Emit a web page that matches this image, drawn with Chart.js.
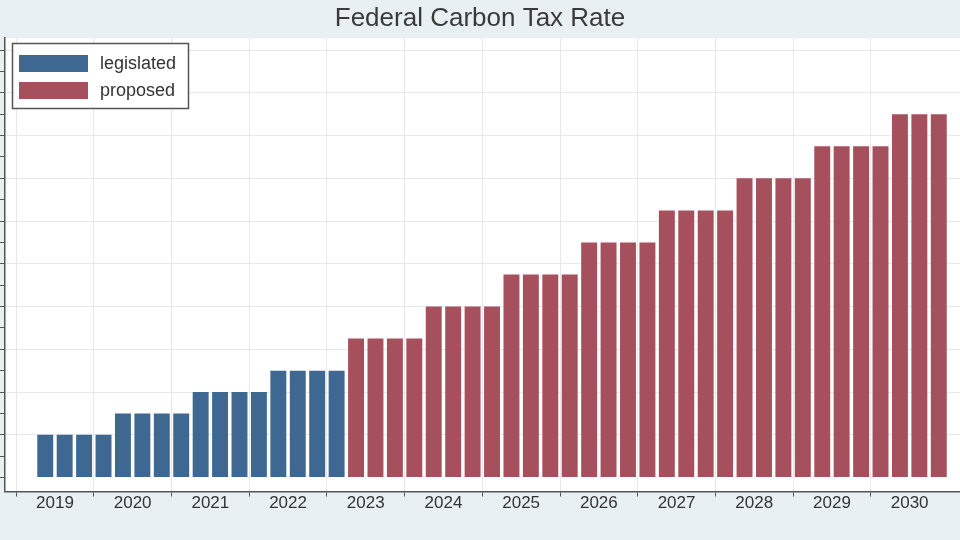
<!DOCTYPE html>
<html>
<head>
<meta charset="utf-8">
<script src="https://cdn.jsdelivr.net/npm/chart.js@4"></script>
<style>
  html, body { margin: 0; padding: 0; background: #e9f0f4; }
  #wrap { width: 960px; height: 540px; }
</style>
</head>
<body>
<div id="wrap"><canvas id="myChart"></canvas></div>
<script>
// quarterly series, Q2 2019 .. Q4 2030
const quarters = [
  '2019Q2','2019Q3','2019Q4','2020Q1','2020Q2','2020Q3','2020Q4','2021Q1',
  '2021Q2','2021Q3','2021Q4','2022Q1','2022Q2','2022Q3','2022Q4','2023Q1',
  '2023Q2','2023Q3','2023Q4','2024Q1','2024Q2','2024Q3','2024Q4','2025Q1',
  '2025Q2','2025Q3','2025Q4','2026Q1','2026Q2','2026Q3','2026Q4','2027Q1',
  '2027Q2','2027Q3','2027Q4','2028Q1','2028Q2','2028Q3','2028Q4','2029Q1',
  '2029Q2','2029Q3','2029Q4','2030Q1','2030Q2','2030Q3','2030Q4'
];
const legislated = [
  20,20,20,20, 30,30,30,30, 40,40,40,40, 50,50,50,50,
  null,null,null,null, null,null,null,null, null,null,null,null, null,null,null,null,
  null,null,null,null, null,null,null,null, null,null,null,null, null,null,null
];
const proposed = [
  null,null,null,null, null,null,null,null, null,null,null,null, null,null,null,null,
  65,65,65,65, 80,80,80,80, 95,95,95,95, 110,110,110,110,
  125,125,125,125, 140,140,140,140, 155,155,155,155, 170,170,170
];
const years = [2019,2020,2021,2022,2023,2024,2025,2026,2027,2028,2029,2030];
const yTicks = [0,10,20,30,40,50,60,70,80,90,100,110,120,130,140,150,160,170,180,190,200];

const blue = '#3e6891';
const red = '#a7505d';

// quarter label -> position on the year axis (centre of the quarter)
function qx(q) {
  return Number(q.slice(0, 4)) + (Number(q.slice(5)) - 0.5) / 4;
}

const data = {
  datasets: [{
    label: 'legislated',
    data: quarters.map((q, i) => ({ x: qx(q), y: legislated[i] })),
    backgroundColor: blue,
    grouped: false
  }, {
    label: 'proposed',
    data: quarters.map((q, i) => ({ x: qx(q), y: proposed[i] })),
    backgroundColor: red,
    grouped: false
  }]
};

const plotBg = {
  id: 'plotBg',
  beforeDraw(chart) {
    const { ctx, chartArea: a } = chart;
    ctx.save();
    ctx.fillStyle = '#ffffff';
    ctx.fillRect(a.left, a.top, a.right - a.left, a.bottom - a.top);
    ctx.restore();
  }
};

// boxed legend inside the plot, top-left
const boxLegend = {
  id: 'boxLegend',
  afterDraw(chart) {
    const ctx = chart.ctx;
    ctx.save();
    ctx.fillStyle = '#ffffff';
    ctx.strokeStyle = '#555555';
    ctx.lineWidth = 1.5;
    ctx.fillRect(12.5, 43.5, 176, 65);
    ctx.strokeRect(12.5, 43.5, 176, 65);
    ctx.font = '18px "Liberation Sans", Arial, sans-serif';
    ctx.textBaseline = 'middle';
    chart.data.datasets.forEach((ds, i) => {
      const y = 55 + i * 27;
      ctx.fillStyle = ds.backgroundColor;
      ctx.fillRect(19, y, 69, 17);
      ctx.fillStyle = '#333333';
      ctx.fillText(ds.label, 100, y + 9);
    });
    ctx.restore();
  }
};

const config = {
  type: 'bar',
  data,
  options: {
    responsive: true,
    maintainAspectRatio: false,
    animation: false,
    categoryPercentage: 0.82,
    barPercentage: 1,
    layout: { padding: { left: 0, right: 0, top: 0, bottom: 29 } },
    plugins: {
      legend: { display: false },
      tooltip: { enabled: false },
      title: {
        display: true,
        text: 'Federal Carbon Tax Rate',
        color: '#3a3a3a',
        font: { family: '"Liberation Sans", Arial, sans-serif', size: 26, weight: 'normal' },
        padding: { top: 3, bottom: 4 }
      }
    },
    scales: {
      x: {
        type: 'linear',
        offset: false,
        min: 2018.857,
        max: 2031.148,
        afterBuildTicks: ax => {
          const t = [];
          years.forEach(y => { t.push({ value: y }); t.push({ value: y + 0.5 }); });
          ax.ticks = t;
        },
        border: { color: '#555555', width: 1.5 },
        grid: {
          offset: false,
          color: c => (c.tick && c.tick.value % 1 === 0) ? '#e8e8e8' : 'rgba(0,0,0,0)',
          tickColor: c => (c.tick && c.tick.value % 1 === 0) ? '#555555' : 'rgba(0,0,0,0)',
          tickLength: 5
        },
        ticks: {
          autoSkip: false,
          maxRotation: 0,
          padding: -3,
          color: '#333333',
          font: { family: '"Liberation Sans", Arial, sans-serif', size: 17 },
          callback: v => (v % 1 === 0.5) ? String(Math.floor(v)) : ''
        }
      },
      y: {
        min: -6.6,
        max: 205.6,
        afterBuildTicks: ax => { ax.ticks = yTicks.map(v => ({ value: v })); },
        border: { color: '#555555', width: 1.5 },
        grid: {
          color: c => (c.tick && c.tick.value % 20 === 0 && c.tick.value > 0) ? '#e8e8e8' : 'rgba(0,0,0,0)',
          tickColor: '#555555',
          tickLength: 5
        },
        ticks: { display: false }
      }
    }
  },
  plugins: [plotBg, boxLegend]
};

const myChart = new Chart(document.getElementById('myChart'), config);
</script>
</body>
</html>
